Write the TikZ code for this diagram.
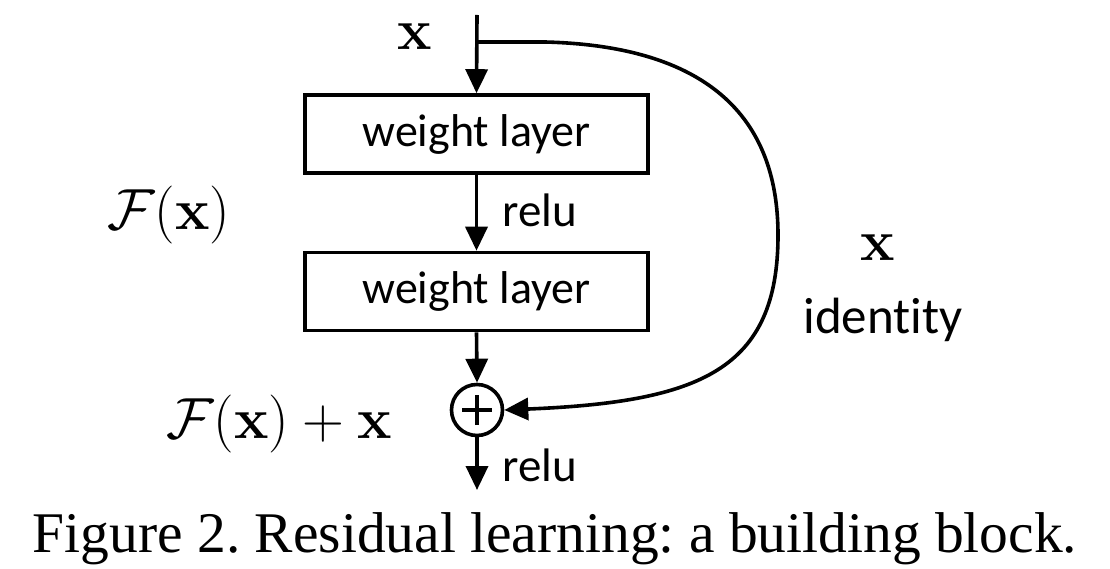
\documentclass[tikz,border=0pt]{standalone}
\usepackage{fix-cm}
\usepackage[no-math]{fontspec}
\setmainfont{Liberation Serif}
\newfontfamily\carl[Ligatures=NoCommon]{Carlito}
\usetikzlibrary{arrows.meta}
\frenchspacing
\begin{document}
\begin{tikzpicture}[x=1pt,y=-1pt,
  lw/.style={line width=3.6pt},
  tip/.style={-{Triangle[length=24pt,width=22pt]}},
  layerbox/.style={draw,line width=3.6pt,minimum width=343pt,minimum height=78pt,inner sep=0pt,font=\carl\fontsize{46}{50}\selectfont},
  lbl/.style={font=\carl\fontsize{47}{50}\selectfont,inner sep=0pt},
  mth/.style={font=\fontsize{58}{62}\selectfont,inner sep=0pt}]
\useasboundingbox (0,0) rectangle (1110,569);
\coordinate (top) at (477,15);
\coordinate (branch) at (477,42);
\node[layerbox] (w1) at (476.5,134) {weight layer};
\node[layerbox] (w2) at (476.5,291.5) {weight layer};
\node[draw,circle,line width=3.6pt,minimum size=51pt,inner sep=0pt] (plus) at (477,410) {};
\draw[line width=3.6pt] ([xshift=-15pt]plus.center) -- ([xshift=15pt]plus.center)
  ([yshift=-15pt]plus.center) -- ([yshift=15pt]plus.center);
\coordinate (out) at (477,490);
\draw[lw,tip] (top) -- (w1.north);
\draw[lw,tip] (w1.south) -- (w2.north);
\draw[lw,tip] (w2.south) -- (plus.north);
\draw[lw,tip] (plus.south) -- (out);
\draw[lw,tip] (branch) -- (545,42) .. controls (705,46) and (778,115) .. (778,235) .. controls (778,370) and (700,402) .. (plus.east);
\node[mth] (xin) at (415,37) {$\mathbf{x}$};
\node[mth] (fx) at (169,215) {$\mathcal{F}(\mathbf{x})$};
\node[mth] (fxx) at (279,424) {$\mathcal{F}(\mathbf{x})+\mathbf{x}$};
\node[mth] (xid) at (878,248) {$\mathbf{x}$};
\node[lbl,font=\carl\fontsize{51}{54}\selectfont] (id) at (883,320) {identity};
\node[lbl] (r1) at (540,210) {relu};
\node[lbl] (r2) at (540,465) {relu};
\node[font=\fontsize{57.5}{62}\selectfont,inner sep=0pt] (cap) at (555,539) {Figure 2. Residual learning: a building block.};
\end{tikzpicture}
\end{document}
